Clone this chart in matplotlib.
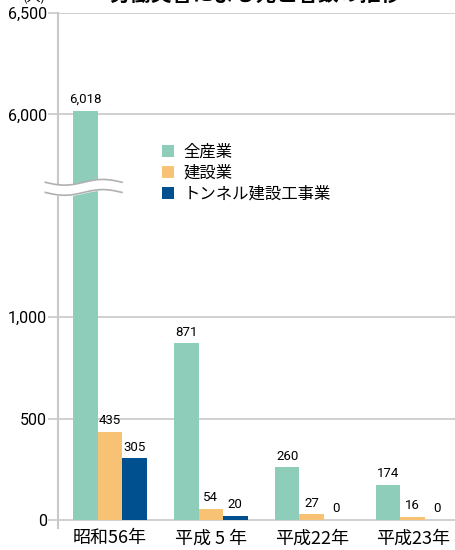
import numpy as np
import matplotlib
matplotlib.use("Agg")
import matplotlib.pyplot as plt

plt.rcParams['font.family'] = ['Noto Sans CJK JP', 'DejaVu Sans']

categories = ['昭和56年', '平成 5 年', '平成22年', '平成23年']
series_names = ['全産業', '建設業', 'トンネル建設工事業']
all_industry = [6018, 871, 260, 174]
construction = [435, 54, 27, 16]
tunnel = [305, 20, 0, 0]
colors = ['#8ecdb9', '#f7c274', '#00508f']
tick_values = [0, 500, 1000, 6000, 6500]
tick_labels = ['0', '500', '1,000', '6,000', '6,500']

def squash(v):
  # broken axis: 1,000 .. 6,000 is drawn in the space of 1,000
  v = np.asarray(v, dtype=float)
  return np.where(v <= 1000, v, v - 4000)

fig = plt.figure(figsize=(4.56, 5.5), dpi=100)
ax = fig.add_axes([0.127, 0.04, 0.873, 0.9364])

x = np.arange(len(categories))
w = 0.243
grid_c = '#c8c8c8'

for t in squash(tick_values):
  ax.axhline(t, color=grid_c, lw=1.2, zorder=1)

for i, (vals, name, c) in enumerate(zip([all_industry, construction, tunnel], series_names, colors)):
  pos = x + (i - 1) * w
  ax.bar(pos, squash(vals), width=w, color=c, label=name, zorder=2)
  for p, v in zip(pos, vals):
    ax.text(p, squash(v) + 22, f'{v:,}', ha='center', va='bottom', fontsize=9.5,
            family=['Roboto', 'DejaVu Sans'], zorder=3)

# wavy break mark across axis and first bar
xs = np.linspace(-0.64, 0.12, 100)
wave = 14 * np.sin((xs - xs[0]) / (xs[-1] - xs[0]) * 2 * np.pi + np.pi)
up = 1665 + wave
lo = 1615 + wave
ax.fill_between(xs, lo, up, color='white', zorder=4, clip_on=False)
ax.plot(xs, up, color='#b0b0b0', lw=1.2, zorder=5, clip_on=False)
ax.plot(xs, lo, color='#b0b0b0', lw=1.2, zorder=5, clip_on=False)

ax.set_xlim(-0.515, 3.43)
ax.set_ylim(-40, 2500)
ax.set_yticks(squash(tick_values))
ax.set_yticklabels(tick_labels, family=['Roboto', 'DejaVu Sans'], fontsize=11.5)
ax.tick_params(axis='y', length=7, width=1.2, color=grid_c, pad=1)
ax.set_xticks(x)
ax.set_xticklabels(categories, fontsize=13)
ax.tick_params(axis='x', length=0, pad=1)

for s in ['top', 'right', 'bottom']:
  ax.spines[s].set_visible(False)
ax.spines['left'].set_color(grid_c)
ax.spines['left'].set_linewidth(1.5)

ax.legend(loc='upper left', bbox_to_anchor=(0.245, 0.758), frameon=False, fontsize=11.8,
          handlelength=0.75, handleheight=0.75, handletextpad=0.55, labelspacing=0.22,
          borderaxespad=0)

fig.text(0.075, 1.006, '(人)', ha='center', va='center', fontsize=10)
fig.text(0.56, 1.011, '労働災害による死亡者数の推移', ha='center', va='center',
         fontsize=15, fontweight='bold')

fig.savefig('out.png', dpi=100)
